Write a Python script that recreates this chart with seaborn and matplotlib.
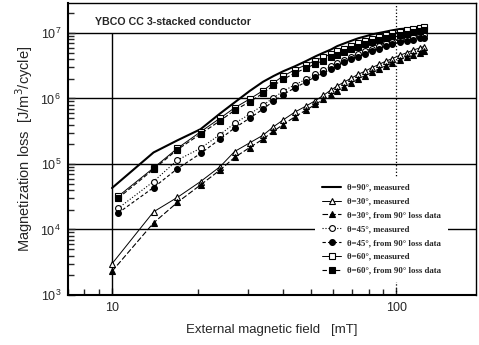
import pandas as pd
import matplotlib
matplotlib.use("Agg")
import matplotlib.pyplot as plt
import matplotlib.ticker as mticker
import seaborn as sns

# external field [mT]
field = [10, 14, 17, 20.5, 24, 27, 30.5, 34, 37, 40, 44, 48, 52, 55.5, 59, 62, 65.5,
         69.5, 73.5, 78, 82, 87, 92, 97, 103, 109, 115, 121, 125]
# 45 and 60 deg runs start a bit above 10 mT
field_b = [10.5] + field[1:]

# magnetization loss [J/m3/cycle]
loss_90_meas = [4.3e4, 1.5e5, 2.3e5, 3.4e5, 5.9e5, 8.7e5, 1.3e6, 1.8e6, 2.2e6, 2.6e6, 3.1e6,
                3.7e6, 4.4e6, 5.0e6, 5.6e6, 6.3e6, 6.9e6, 7.6e6, 8.3e6, 8.9e6, 9.5e6, 1.0e7,
                1.05e7, 1.1e7, 1.15e7, 1.17e7, 1.2e7, 1.23e7, 1.26e7]
loss_30_meas = [3.0e3, 1.86e4, 3.1e4, 5.4e4, 9.1e4, 1.55e5, 2.1e5, 2.75e5, 3.7e5, 4.7e5, 6.2e5,
                7.6e5, 9.3e5, 1.12e6, 1.35e6, 1.55e6, 1.78e6, 2.04e6, 2.34e6, 2.63e6, 2.95e6,
                3.31e6, 3.72e6, 4.07e6, 4.57e6, 5.0e6, 5.5e6, 5.9e6, 6.2e6]
loss_30_calc = [2.3e3, 1.26e4, 2.6e4, 4.8e4, 8.1e4, 1.26e5, 1.78e5, 2.4e5, 3.16e5, 4.0e5, 5.25e5,
                6.6e5, 8.1e5, 9.8e5, 1.15e6, 1.32e6, 1.51e6, 1.74e6, 2.0e6, 2.24e6, 2.51e6,
                2.82e6, 3.16e6, 3.47e6, 3.89e6, 4.27e6, 4.68e6, 5.0e6, 5.25e6]
loss_45_meas = [2.1e4, 5.4e4, 1.15e5, 1.74e5, 2.82e5, 4.17e5, 5.75e5, 7.94e5, 1.02e6, 1.29e6,
                1.62e6, 1.95e6, 2.34e6, 2.69e6, 3.09e6, 3.47e6, 3.89e6, 4.37e6, 4.79e6, 5.37e6,
                5.75e6, 6.31e6, 6.92e6, 7.41e6, 7.94e6, 8.32e6, 8.71e6, 9.12e6, 9.33e6]
loss_45_calc = [1.78e4, 4.37e4, 8.5e4, 1.45e5, 2.4e5, 3.55e5, 5.0e5, 6.9e5, 9.1e5, 1.15e6, 1.45e6,
                1.78e6, 2.14e6, 2.45e6, 2.82e6, 3.16e6, 3.55e6, 3.98e6, 4.37e6, 4.79e6, 5.25e6,
                5.75e6, 6.31e6, 6.76e6, 7.24e6, 7.59e6, 7.94e6, 8.32e6, 8.51e6]
loss_60_meas = [3.2e4, 8.7e4, 1.74e5, 3.1e5, 5.0e5, 7.2e5, 9.8e5, 1.32e6, 1.74e6, 2.19e6, 2.75e6,
                3.24e6, 3.8e6, 4.27e6, 4.79e6, 5.25e6, 5.75e6, 6.31e6, 6.92e6, 7.59e6, 8.13e6,
                8.71e6, 9.33e6, 1.0e7, 1.05e7, 1.1e7, 1.15e7, 1.2e7, 1.23e7]
loss_60_calc = [3.0e4, 8.3e4, 1.66e5, 2.88e5, 4.57e5, 6.6e5, 8.9e5, 1.2e6, 1.58e6, 1.95e6, 2.45e6,
                2.88e6, 3.39e6, 3.8e6, 4.27e6, 4.68e6, 5.13e6, 5.62e6, 6.17e6, 6.76e6, 7.24e6,
                7.76e6, 8.32e6, 8.91e6, 9.33e6, 9.77e6, 1.02e7, 1.07e7, 1.1e7]

labels = ["θ=90°, measured", "θ=30°, measured", "θ=30°, from 90° loss data",
          "θ=45°, measured", "θ=45°, from 90° loss data",
          "θ=60°, measured", "θ=60°, from 90° loss data"]

series = [
    (field, loss_90_meas, dict(lw=1.5, ls="-", marker=None)),
    (field, loss_30_meas, dict(lw=0.7, ls="-", marker="^", mfc="white")),
    (field, loss_30_calc, dict(lw=0.8, ls=(0, (5, 2)), marker="^", mfc="black")),
    (field_b, loss_45_meas, dict(lw=0.8, ls=":", marker="o", mfc="white")),
    (field_b, loss_45_calc, dict(lw=0.8, ls=(0, (3, 2)), marker="o", mfc="black")),
    (field_b, loss_60_meas, dict(lw=0.7, ls="-", marker="s", mfc="white")),
    (field_b, loss_60_calc, dict(lw=0.8, ls=(0, (4, 2)), marker="s", mfc="black")),
]

sns.set_style("ticks")
plt.rcParams["font.family"] = ["Liberation Sans", "DejaVu Sans"]

fig = plt.figure(figsize=(4.79, 3.45), dpi=100)
ax = fig.add_axes([68/479, 50/345, 408/479, 292/345])
ax.set_xscale("log")
ax.set_yscale("log")

for (x, y, st), lab in zip(series, labels):
    df = pd.DataFrame({"field": x, "loss": y})
    sns.lineplot(data=df, x="field", y="loss", ax=ax, color="black", label=lab,
                 linewidth=st["lw"], linestyle=st["ls"], marker=st["marker"],
                 markersize=4.2, markerfacecolor=st.get("mfc", "black"),
                 markeredgecolor="black", markeredgewidth=0.8, zorder=3)

ax.set_xlim(7.0, 191)
ax.set_ylim(1e3, 2.87e7)

# horizontal grid at the decades, vertical lines at 10 (solid, up to 1e7) and 100 (dotted)
ax.yaxis.grid(True, which="major", color="black", linewidth=1.0)
ax.xaxis.grid(False)
xt = [t for t in ax.get_xticks() if 7.0 < t < 191]
ax.vlines(xt[:1], 1e3, 1e7, color="black", linewidth=1.0, zorder=1)
ax.vlines(xt[1:], 1e3, 2.87e7, color="black", linewidth=0.9, linestyle=":", zorder=1)

for s in ax.spines.values():
    s.set_color("black")
    s.set_linewidth(1.0)
ax.spines["left"].set_linewidth(1.5)
ax.spines["bottom"].set_linewidth(1.5)

ax.set_xlabel("External magnetic field   [mT]", fontsize=9.5, labelpad=7)
ax.set_ylabel("Magnetization loss  [J/m$^3$/cycle]", fontsize=10.5, labelpad=4)

ax.text(0.066, 0.935, "YBCO CC 3-stacked conductor", transform=ax.transAxes,
        fontsize=7.7, fontweight="bold", va="center", ha="left")

leg = ax.legend(loc="upper left", bbox_to_anchor=(0.595, 0.42), frameon=True,
                fancybox=False, edgecolor="none", facecolor="white", framealpha=1,
                handlelength=2.2, handletextpad=0.6, labelspacing=0.65, borderpad=0.8,
                prop={"family": ["Liberation Serif", "DejaVu Serif"], "weight": "bold", "size": 6.3})

# ticks last, so nothing above resets them
ax.minorticks_on()
ax.xaxis.set_minor_locator(mticker.LogLocator(base=10, subs=[2, 3, 4, 5, 6, 7, 8, 9], numticks=12))
ax.yaxis.set_minor_locator(mticker.LogLocator(base=10, subs=[2, 3, 4, 5, 6, 7, 8, 9], numticks=12))
ax.xaxis.set_major_formatter(mticker.FuncFormatter(lambda v, p: f"{v:g}"))
ax.xaxis.set_minor_formatter(mticker.NullFormatter())
ax.yaxis.set_minor_formatter(mticker.NullFormatter())
ax.tick_params(which="major", direction="in", length=5, width=1, labelsize=9, pad=5,
               bottom=True, left=True, top=False, right=False)
ax.tick_params(which="minor", direction="in", length=4, width=1, bottom=True, left=True,
               top=False, right=False)

fig.canvas.draw()
for t in ax.xaxis.get_minor_ticks() + ax.yaxis.get_minor_ticks():
    t.tick1line.set_visible(True)
    t.tick1line.set_markersize(4)
    t.tick1line.set_markeredgewidth(1)
    t.tick1line.set_color("black")

fig.savefig("out.png", dpi=100)
